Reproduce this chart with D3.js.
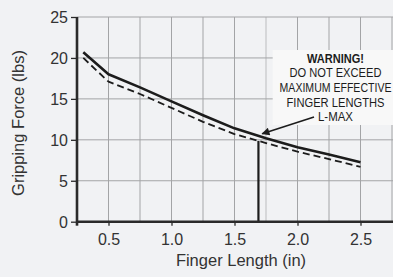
<!DOCTYPE html>
<html>
<head>
<meta charset="utf-8">
<script src="https://d3js.org/d3.v7.min.js"></script>
<style>
  html, body { margin: 0; padding: 0; background: #f1f2f4; }
  svg { display: block; font-family: "Liberation Sans", Arial, sans-serif; }
</style>
</head>
<body>
<div id="chart"></div>
<script>
// finger length (in) and gripping force (lbs)
var lengths = [0.3, 0.5, 0.75, 1.0, 1.25, 1.5, 1.75, 2.0, 2.25, 2.5];
var forceSolid = [20.7, 18.0, 16.4, 14.7, 13.0, 11.4, 10.2, 9.1, 8.2, 7.25];
var forceDashed = [20.0, 17.1, 15.6, 13.9, 12.2, 10.7, 9.6, 8.55, 7.65, 6.7];
var xTicks = [0.5, 1.0, 1.5, 2.0, 2.5];
var yTicks = [0, 5, 10, 15, 20, 25];
var lMax = 1.69;
var warningLines = ["WARNING!", "DO NOT EXCEED", "MAXIMUM EFFECTIVE", "FINGER LENGTHS", "L-MAX"];

const fullwidth = 393;
const fullheight = 277;

var xScale = d3.scaleLinear().domain([0.25, 2.85]).range([77, 404.6]);
var yScale = d3.scaleLinear().domain([0, 25]).range([221.7, 17]);

var svg = d3.select("#chart").append("svg")
  .attr("width", fullwidth)
  .attr("height", fullheight);

svg.append("rect").attr("width", fullwidth).attr("height", fullheight).attr("fill", "#f1f2f4");

// grid
var grid = svg.append("g");
grid.selectAll("line.v")
  .data(d3.range(0.5, 2.8, 0.25))
  .enter().append("line")
    .attr("x1", d => xScale(d)).attr("x2", d => xScale(d))
    .attr("y1", yScale(0)).attr("y2", yScale(25))
    .attr("stroke", d => Math.abs(d - 1.75) < 0.01 ? "#d6d7d9" : "#a3a4a6")
    .attr("stroke-width", d => Math.abs(d - 1.75) < 0.01 ? 2 : 1);
grid.selectAll("line.h")
  .data(yTicks.slice(1))
  .enter().append("line")
    .attr("x1", xScale(0.25)).attr("x2", fullwidth)
    .attr("y1", d => yScale(d)).attr("y2", d => yScale(d))
    .attr("stroke", "#a3a4a6").attr("stroke-width", 1);

// warning box (covers grid)
svg.append("rect")
  .attr("x", 272.7).attr("y", 50)
  .attr("width", 130).attr("height", 75)
  .attr("fill", "#f8f8f8");

// curves
var line = d3.line()
  .x((d, i) => xScale(lengths[i]))
  .y(d => yScale(d));

svg.append("path").datum(forceDashed)
  .attr("d", line).attr("fill", "none")
  .attr("stroke", "#1c1c1c").attr("stroke-width", 1.8)
  .attr("stroke-linejoin", "round")
  .attr("stroke-dasharray", "7,4");
svg.append("path").datum(forceSolid)
  .attr("d", line).attr("fill", "none")
  .attr("stroke", "#1c1c1c").attr("stroke-width", 2.6)
  .attr("stroke-linejoin", "round");

// L-max line up to the dashed curve
var lMaxForce = d3.scaleLinear().domain(lengths).range(forceDashed)(lMax);
svg.append("line")
  .attr("x1", xScale(lMax)).attr("x2", xScale(lMax))
  .attr("y1", yScale(0)).attr("y2", yScale(lMaxForce))
  .attr("stroke", "#1c1c1c").attr("stroke-width", 2.2);

// axes
var xAxis = d3.axisBottom(xScale).tickValues(xTicks).tickFormat(d3.format(".1f"))
  .tickSize(4).tickPadding(8);
var yAxis = d3.axisLeft(yScale).tickValues(yTicks).tickSize(6).tickPadding(3);

var gx = svg.append("g").attr("transform", "translate(0," + yScale(0) + ")").call(xAxis);
var gy = svg.append("g").attr("transform", "translate(" + xScale(0.25) + ",0)").call(yAxis);
[gx, gy].forEach(function(g) {
  g.select(".domain").remove();
  g.selectAll(".tick line").attr("stroke", "#2a2a2a").attr("stroke-width", 1.3);
  g.selectAll(".tick text").attr("fill", "#333").style("font-size", "16px")
    .style("font-family", "'Liberation Sans', Arial, sans-serif");
});
gy.selectAll(".tick text").attr("dy", "0.36em");
gx.selectAll(".tick text").attr("dy", "0.72em");

// thick axis lines
svg.append("line")
  .attr("x1", xScale(0.25)).attr("x2", fullwidth)
  .attr("y1", yScale(0)).attr("y2", yScale(0))
  .attr("stroke", "#2a2a2a").attr("stroke-width", 2.6);
svg.append("line")
  .attr("x1", xScale(0.25)).attr("x2", xScale(0.25))
  .attr("y1", yScale(0) + 4).attr("y2", yScale(25))
  .attr("stroke", "#2a2a2a").attr("stroke-width", 2.6);

// axis titles
svg.append("text")
  .attr("x", 241).attr("y", 266)
  .attr("text-anchor", "middle")
  .attr("fill", "#333").style("font-size", "16.5px")
  .text("Finger Length (in)");
svg.append("text")
  .attr("transform", "translate(24,123) rotate(-90)")
  .attr("text-anchor", "middle")
  .attr("fill", "#333").style("font-size", "16.5px")
  .text("Gripping Force (lbs)");

// warning text, squeezed horizontally like a condensed face
var widths = [57, 92, 112, 98, 35];
svg.selectAll("text.warn")
  .data(warningLines)
  .enter().append("text")
    .attr("class", "warn")
    .attr("text-anchor", "middle")
    .attr("fill", "#1c1c1c")
    .style("font-size", "13px")
    .style("font-weight", (d, i) => i === 0 ? "bold" : "normal")
    .text(d => d)
    .attr("transform", function(d, i) {
      var sx = widths[i] / this.getComputedTextLength();
      return "translate(335.5," + (62.5 + i * 14.7) + ") scale(" + sx + ",1)";
    });

// arrow
svg.append("defs").append("marker")
  .attr("id", "arrow")
  .attr("viewBox", "0 0 10 10")
  .attr("refX", 9).attr("refY", 5)
  .attr("markerWidth", 10).attr("markerHeight", 8)
  .attr("markerUnits", "userSpaceOnUse")
  .attr("orient", "auto")
  .append("path").attr("d", "M0,0 L10,5 L0,10 z").attr("fill", "#1c1c1c");
svg.append("line")
  .attr("x1", 314).attr("y1", 117)
  .attr("x2", xScale(1.72)).attr("y2", yScale(10.75))
  .attr("stroke", "#1c1c1c").attr("stroke-width", 1.6)
  .attr("marker-end", "url(#arrow)");
</script>
</body>
</html>
